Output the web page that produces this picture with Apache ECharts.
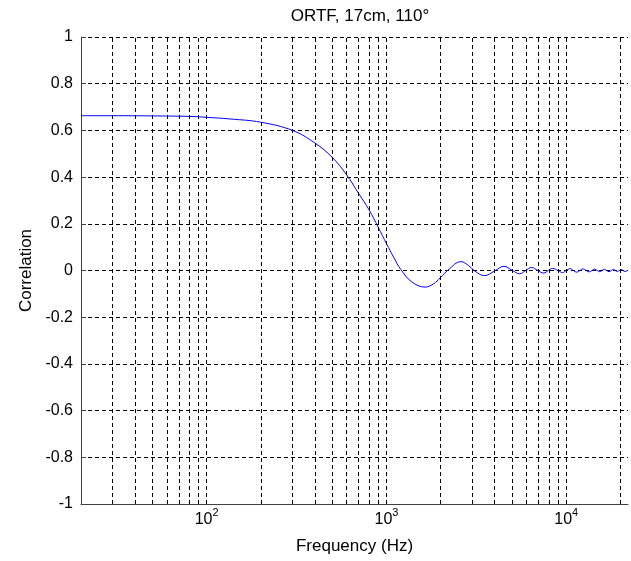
<!DOCTYPE html>
<html>
<head>
<meta charset="utf-8">
<script src="https://cdn.jsdelivr.net/npm/echarts@6/dist/echarts.min.js"></script>
<style>
  html, body { margin: 0; padding: 0; background: #fff; }
  #chart { width: 631px; height: 561px; }
</style>
</head>
<body>
<div id="chart"></div>
<script>
// frequency points (Hz) and correlation
const freqs = [20, 30, 50, 80, 100, 135, 200, 300, 400, 500, 600, 700, 800, 900,
  1000, 1100, 1200, 1380, 1640, 1820, 2000, 2200, 2600, 2850, 3100, 3500, 4000,
  4500, 5000, 5500, 5950, 6400, 6950, 7500, 7950, 8400, 9000, 9550, 10000, 10500,
  10950, 11450, 11900, 12400, 12900, 13400, 13900, 14400, 14850, 15350, 15800,
  16300, 16800, 17300, 17800, 18300, 18750, 19250, 19700, 20200, 20700, 21200, 22050];
const corr = [0.663, 0.663, 0.662, 0.660, 0.656, 0.649, 0.635, 0.600, 0.546, 0.484,
  0.410, 0.330, 0.260, 0.185, 0.115, 0.055, 0.005, -0.048, -0.071, -0.058, -0.030,
  0.002, 0.038, 0.022, -0.002, -0.022, -0.002, 0.018, 0.001, -0.014, 0.000, 0.013,
  0.000, -0.011, 0.000, 0.009, 0.000, -0.009, 0.000, 0.008, 0.000, -0.007, 0.000,
  0.007, 0.000, -0.006, 0.000, 0.006, 0.000, -0.005, 0.000, 0.005, 0.000, -0.005,
  0.000, 0.005, 0.000, -0.004, 0.000, 0.004, 0.000, -0.004, 0.001];

// vertical log grid lines
const gridFreqs = [30, 40, 50, 60, 70, 80, 90, 100, 200, 300, 400, 500, 600, 700,
  800, 900, 1000, 2000, 3000, 4000, 5000, 6000, 7000, 8000, 9000, 10000, 20000];

const fMin = 20, fMax = 22050;
const yMin = -1, yMax = 1, yStep = 0.2;

const FONT = '"Liberation Sans", Arial, sans-serif';
const axisCol = '#404040';
const dash = [4, 3];

const chart = echarts.init(document.getElementById('chart'), null, { renderer: 'canvas' });

chart.setOption({
  animation: false,
  backgroundColor: '#fff',
  title: {
    text: 'ORTF, 17cm, 110°',
    left: 360, top: 8, textAlign: 'center', padding: 0,
    textStyle: { fontFamily: FONT, fontSize: 17, fontWeight: 'normal', color: '#000' }
  },
  grid: { left: 81, right: 1, top: 37, bottom: 57 },
  xAxis: {
    type: 'log', logBase: 10, min: fMin, max: fMax,
    name: 'Frequency (Hz)', nameLocation: 'middle', nameGap: 34,
    nameTextStyle: { fontFamily: FONT, fontSize: 17, color: '#000' },
    axisLine: { show: true, onZero: false, lineStyle: { color: axisCol, width: 1 } },
    axisTick: { show: false },
    splitLine: { show: false },
    axisLabel: {
      margin: 3,
      formatter: v => {
        const e = Math.log10(v);
        if (Math.abs(e - Math.round(e)) > 1e-6) return '';
        return '{b|10}{e|' + Math.round(e) + '}';
      },
      rich: {
        b: { fontFamily: FONT, fontSize: 16, color: '#000', verticalAlign: 'bottom', lineHeight: 21 },
        e: { fontFamily: FONT, fontSize: 11, color: '#000', verticalAlign: 'top', lineHeight: 11 }
      }
    }
  },
  yAxis: {
    type: 'value', min: yMin, max: yMax, interval: yStep,
    name: 'Correlation', nameLocation: 'middle', nameGap: 46,
    nameTextStyle: { fontFamily: FONT, fontSize: 17, color: '#000' },
    axisLine: { show: true, lineStyle: { color: axisCol, width: 1 } },
    axisTick: { show: true, inside: true, length: 5, lineStyle: { color: axisCol } },
    splitLine: { show: true, lineStyle: { color: '#000', width: 1, type: dash } },
    axisLabel: {
      margin: 8, fontFamily: FONT, fontSize: 16, color: '#000',
      formatter: v => String(+v.toFixed(1))
    }
  },
  series: [
    {
      name: 'grid', type: 'line', z: 1, silent: true,
      data: freqs.map((f, i) => [f, corr[i]]),
      showSymbol: false, lineStyle: { opacity: 0 },
      markLine: {
        silent: true, symbol: ['none', 'none'], animation: false,
        label: { show: false },
        lineStyle: { color: '#000', width: 1, type: dash },
        data: gridFreqs.map(f => ({ xAxis: f }))
      }
    },
    {
      name: 'Correlation', type: 'line', z: 3,
      data: freqs.map((f, i) => [f, corr[i]]),
      showSymbol: false, smooth: 0.4,
      lineStyle: { color: '#0000ff', width: 1 }
    }
  ]
});
</script>
</body>
</html>
